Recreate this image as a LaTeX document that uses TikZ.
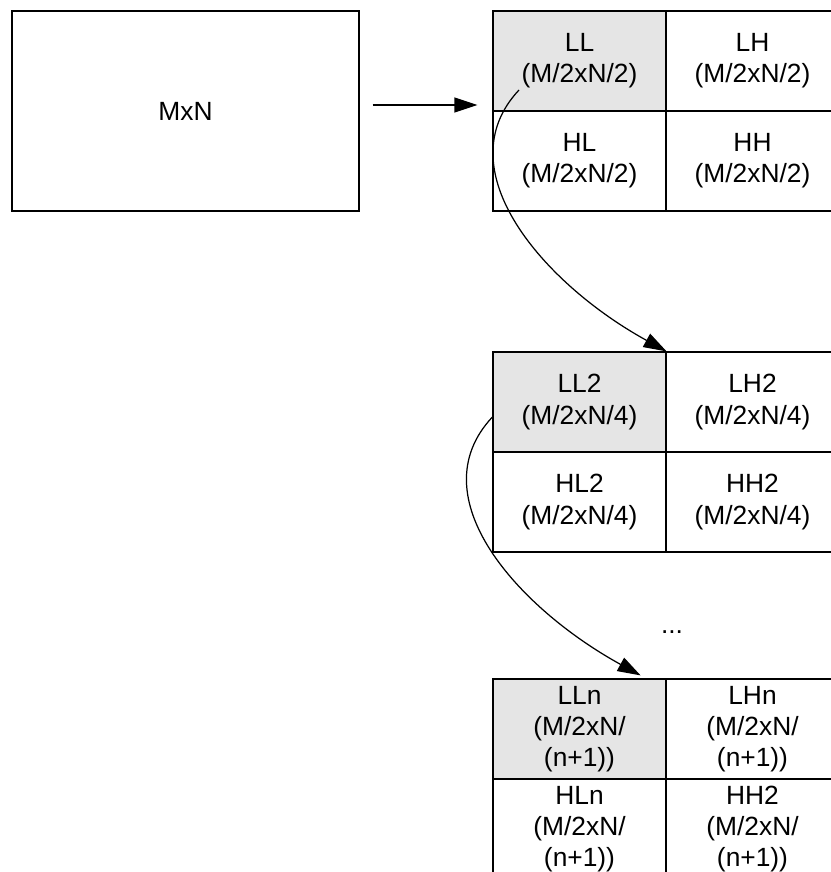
\documentclass[tikz,border=0pt]{standalone}
\usepackage{fontspec}
\setmainfont{Liberation Sans}
\usetikzlibrary{arrows.meta,calc}

\begin{document}
\begin{tikzpicture}[x=0.02cm,y=-0.02cm,line width=0.7pt,
  font=\fontsize{15}{17.8}\selectfont,
  cell/.style={draw,minimum width=3.46cm,minimum height=2cm,align=center,inner sep=0pt},
  lowcell/.style={cell,fill=black!10},
  arr/.style={-{Triangle[length=0.46cm,width=0.3cm]}}]
  \useasboundingbox (0,0) rectangle (831,872);
  \node[draw,minimum width=6.94cm,minimum height=4cm] (mxn) at (185.5,111) {MxN};
  % first level
  \node[lowcell] (ll) at (579.5,61) {LL\\(M/2xN/2)};
  \node[cell] (lh) at (752.5,61) {LH\\(M/2xN/2)};
  \node[cell] (hl) at (579.5,161) {HL\\(M/2xN/2)};
  \node[cell] (hh) at (752.5,161) {HH\\(M/2xN/2)};
  % second level
  \node[lowcell] (ll2) at (579.5,402) {LL2\\(M/2xN/4)};
  \node[cell] (lh2) at (752.5,402) {LH2\\(M/2xN/4)};
  \node[cell] (hl2) at (579.5,502) {HL2\\(M/2xN/4)};
  \node[cell] (hh2) at (752.5,502) {HH2\\(M/2xN/4)};
  \node (dots) at (672,632) {...};
  % n-th level
  \node[lowcell] (lln) at (579.5,729) {LLn\\(M/2xN/\\(n+1))};
  \node[cell] (lhn) at (752.5,729) {LHn\\(M/2xN/\\(n+1))};
  \node[cell] (hln) at (579.5,829) {HLn\\(M/2xN/\\(n+1))};
  \node[cell] (hhn) at (752.5,829) {HH2\\(M/2xN/\\(n+1))};
  % connectors
  \coordinate (from1) at ($(ll.center)+(-60.5,29)$);
  \coordinate (from2) at ($(ll2.west)+(0,15)$);
  \coordinate (to3) at ($(lln.north east)+(-26,-3)$);
  \draw[arr] ($(mxn.east)+(13,-6)$) -- ($(ll.west |- mxn.east)+(-15,-6)$);
  \draw[arr] (from1) .. controls +(-75,80) and +(-122,-67) .. (ll2.north east);
  \draw[arr] (from2) .. controls +(-75,80) and +(-122,-67) .. (to3);
\end{tikzpicture}
\end{document}
